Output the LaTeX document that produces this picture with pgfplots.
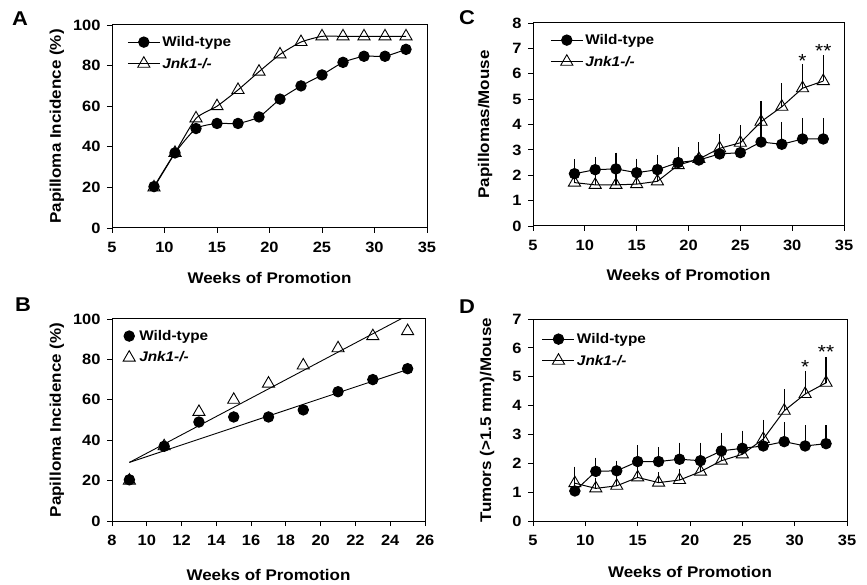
\documentclass[border=0pt]{standalone}
\usepackage{fontspec}
\setmainfont{Liberation Sans}[FakeStretch=1.1]
\usepackage{pgfplots}
\pgfplotsset{compat=1.18}
\tikzset{lblfont/.style={font=\fontsize{15.5}{18}\selectfont\bfseries}}
\begin{document}
\begin{tikzpicture}[x=1bp,y=1bp]
\path[use as bounding box] (0bp,0bp) rectangle (867bp,585bp);
\pgfplotsset{
  every axis/.append style={
    scale only axis, anchor=south west,
    axis line style={black, line width=1bp},
    tick align=outside, xtick pos=bottom, ytick pos=left,
    major tick length=5bp,
    tick style={black, line width=0.8bp},
    /pgf/number format/assume math mode=true,
    ticklabel style={font=\fontsize{15}{17}\selectfont\bfseries},
    xticklabel style={yshift=-6bp},
    yticklabel style={xshift=-3bp},
    legend style={draw=none, fill=none, font=\fontsize{14}{16}\selectfont\bfseries,
      anchor=north west, inner sep=0pt, row sep=6bp, cells={anchor=west}},
    clip=false,
  },
  wt/.style={black, line width=1bp, mark=*, mark size=5.2bp, mark options={solid, fill=black}},
  ko/.style={black, line width=1bp, mark=triangle, mark size=7bp, mark options={solid, fill=white, line width=0.9bp}},
  eb/.style={forget plot, draw=none, mark=none,
    error bars/.cd, y dir=plus, y explicit,
    error bar style={draw=black, line width=1.2bp},
    error mark options={draw=black, mark size=5bp, line width=1.2bp}},
  lineleg/.style={legend image code/.code={\draw[mark repeat=2,mark phase=2] plot coordinates {(0bp,0bp) (16bp,0bp) (32bp,0bp)};}},
}
% ---------------- A ----------------
\begin{axis}[at={(112bp,357bp)}, width=315bp, height=203bp,
  xmin=5, xmax=35, ymin=0, ymax=100, xtick={5,10,...,35}, ytick={0,20,...,100},
  xlabel={Weeks of Promotion}, ylabel={Papilloma Incidence (\%)},
  every axis x label/.style={at={(axis description cs:0.5,-0.246)}, anchor=center, lblfont},
  every axis y label/.style={at={(axis description cs:-0.175,0.5)}, rotate=90, anchor=center, lblfont},
  legend style={at={(axis description cs:0.048,0.955)}}, lineleg]
\addplot[wt, smooth, tension=0.35] coordinates {(9,20.4)(11,37)(13,49)(15,51.5)(17,51.5)(19,54.7)(21,63.5)(23,70)(25,75.4)(27,81.6)(29,84.6)(31,84.6)(33,88)};
\addlegendentry{Wild-type}
\addplot[ko, smooth, tension=0.35] coordinates {(9,20)(11,37)(13,54)(15,60)(17,68)(19,77)(21,85.5)(23,91.6)(25,94.4)(27,94.4)(29,94.4)(31,94.4)(33,94.4)};
\addlegendentry{\itshape Jnk1-/-}
\end{axis}
% ---------------- B ----------------
\begin{axis}[at={(112bp,64bp)}, width=313bp, height=202bp,
  xmin=8, xmax=26, ymin=0, ymax=100, xtick={8,10,...,26}, ytick={0,20,...,100},
  xlabel={Weeks of Promotion}, ylabel={Papilloma Incidence (\%)},
  every axis x label/.style={at={(axis description cs:0.5,-0.267)}, anchor=center, lblfont},
  every axis y label/.style={at={(axis description cs:-0.176,0.5)}, rotate=90, anchor=center, lblfont},
  legend style={at={(axis description cs:0.035,0.955)}, column sep=2bp}]
\begin{scope}
\clip (axis cs:8,0) rectangle (axis cs:26,100);
\addplot[forget plot, black, line width=0.9bp, mark=none] coordinates {(9,29)(25,101.8)};
\addplot[forget plot, black, line width=0.9bp, mark=none] coordinates {(9,29)(25,75)};
\end{scope}
\addplot[wt, only marks] coordinates {(9,20.4)(11,37)(13,49)(15,51.5)(17,51.5)(19,55)(21,64)(23,70)(25,75.4)};
\addlegendentry{Wild-type}
\addplot[ko, only marks] coordinates {(9,20)(11,37)(13,54)(15,60)(17,68)(19,77)(21,85.5)(23,91.5)(25,94)};
\addlegendentry{\itshape Jnk1-/-}
\end{axis}
% ---------------- C ----------------
\begin{axis}[at={(533bp,359bp)}, width=311bp, height=203bp,
  xmin=5, xmax=35, ymin=0, ymax=8, xtick={5,10,...,35}, ytick={0,1,...,8},
  xlabel={Weeks of Promotion}, ylabel={Papillomas/Mouse},
  every axis x label/.style={at={(axis description cs:0.5,-0.241)}, anchor=center, lblfont},
  every axis y label/.style={at={(axis description cs:-0.154,0.5)}, rotate=90, anchor=center, lblfont},
  legend style={at={(axis description cs:0.055,0.955)}}, lineleg]
\addplot[eb] table[x=x, y=y, y error=e] {
x y e
9 2.06 0.38
11 2.22 0.31
13 2.25 0.44
15 2.10 0.36
17 2.22 0.39
19 2.50 0.40
21 2.60 0.45
23 2.84 0.50
25 2.89 0.55
27 3.31 0.60
29 3.22 0.69
31 3.43 0.63
33 3.43 0.63
};
\addplot[eb] table[x=x, y=y, y error=e] {
x y e
9 1.71 0.30
11 1.62 0.30
13 1.62 0.36
15 1.65 0.30
17 1.76 0.30
19 2.40 0.30
21 2.64 0.46
23 3.06 0.38
25 3.28 0.49
27 4.11 0.62
29 4.70 0.73
31 5.43 0.76
33 5.71 0.82
};
\addplot[wt] coordinates {(9,2.06)(11,2.22)(13,2.25)(15,2.10)(17,2.22)(19,2.50)(21,2.60)(23,2.84)(25,2.89)(27,3.31)(29,3.22)(31,3.43)(33,3.43)};
\addlegendentry{Wild-type}
\addplot[ko] coordinates {(9,1.71)(11,1.62)(13,1.62)(15,1.65)(17,1.76)(19,2.40)(21,2.64)(23,3.06)(25,3.28)(27,4.11)(29,4.70)(31,5.43)(33,5.71)};
\addlegendentry{\itshape Jnk1-/-}
\node[font=\fontsize{19}{19}\selectfont, inner sep=0pt] at (axis cs:31,6.5) {*};
\node[font=\fontsize{19}{19}\selectfont, inner sep=0pt] at (axis cs:33,6.88) {**};
\end{axis}
% ---------------- D ----------------
\begin{axis}[at={(533bp,64bp)}, width=314bp, height=202bp,
  xmin=5, xmax=35, ymin=0, ymax=7, xtick={5,10,...,35}, ytick={0,1,...,7},
  xlabel={Weeks of Promotion}, ylabel={Tumors (>1.5 mm)/Mouse},
  every axis x label/.style={at={(axis description cs:0.5,-0.252)}, anchor=center, lblfont},
  every axis y label/.style={at={(axis description cs:-0.146,0.5)}, rotate=90, anchor=center, lblfont},
  legend style={at={(axis description cs:0.028,0.94)}}, lineleg]
\addplot[eb] table[x=x, y=y, y error=e] {
x y e
9 1.04 0.30
11 1.72 0.30
13 1.74 0.18
15 2.06 0.40
17 2.06 0.32
19 2.14 0.40
21 2.09 0.45
23 2.43 0.46
25 2.52 0.44
27 2.60 0.40
29 2.75 0.50
31 2.60 0.55
33 2.68 0.47
};
\addplot[eb] table[x=x, y=y, y error=e] {
x y e
9 1.31 0.40
11 1.13 0.20
13 1.22 0.21
15 1.51 0.30
17 1.33 0.18
19 1.42 0.20
21 1.71 0.30
23 2.09 0.30
25 2.31 0.30
27 2.84 0.49
29 3.82 0.58
31 4.40 0.63
33 4.79 0.72
};
\addplot[wt] coordinates {(9,1.04)(11,1.72)(13,1.74)(15,2.06)(17,2.06)(19,2.14)(21,2.09)(23,2.43)(25,2.52)(27,2.60)(29,2.75)(31,2.60)(33,2.68)};
\addlegendentry{Wild-type}
\addplot[ko] coordinates {(9,1.31)(11,1.13)(13,1.22)(15,1.51)(17,1.33)(19,1.42)(21,1.71)(23,2.09)(25,2.31)(27,2.84)(29,3.82)(31,4.40)(33,4.79)};
\addlegendentry{\itshape Jnk1-/-}
\node[font=\fontsize{19}{19}\selectfont, inner sep=0pt] at (axis cs:31,5.35) {*};
\node[font=\fontsize{19}{19}\selectfont, inner sep=0pt] at (axis cs:33,5.85) {**};
\end{axis}
% panel letters
\node[font=\fontsize{20}{20}\selectfont\bfseries] at (20bp,566bp) {A};
\node[font=\fontsize{20}{20}\selectfont\bfseries] at (23bp,280bp) {B};
\node[font=\fontsize{20}{20}\selectfont\bfseries] at (467bp,567bp) {C};
\node[font=\fontsize{20}{20}\selectfont\bfseries] at (467bp,278bp) {D};
\end{tikzpicture}
\end{document}
